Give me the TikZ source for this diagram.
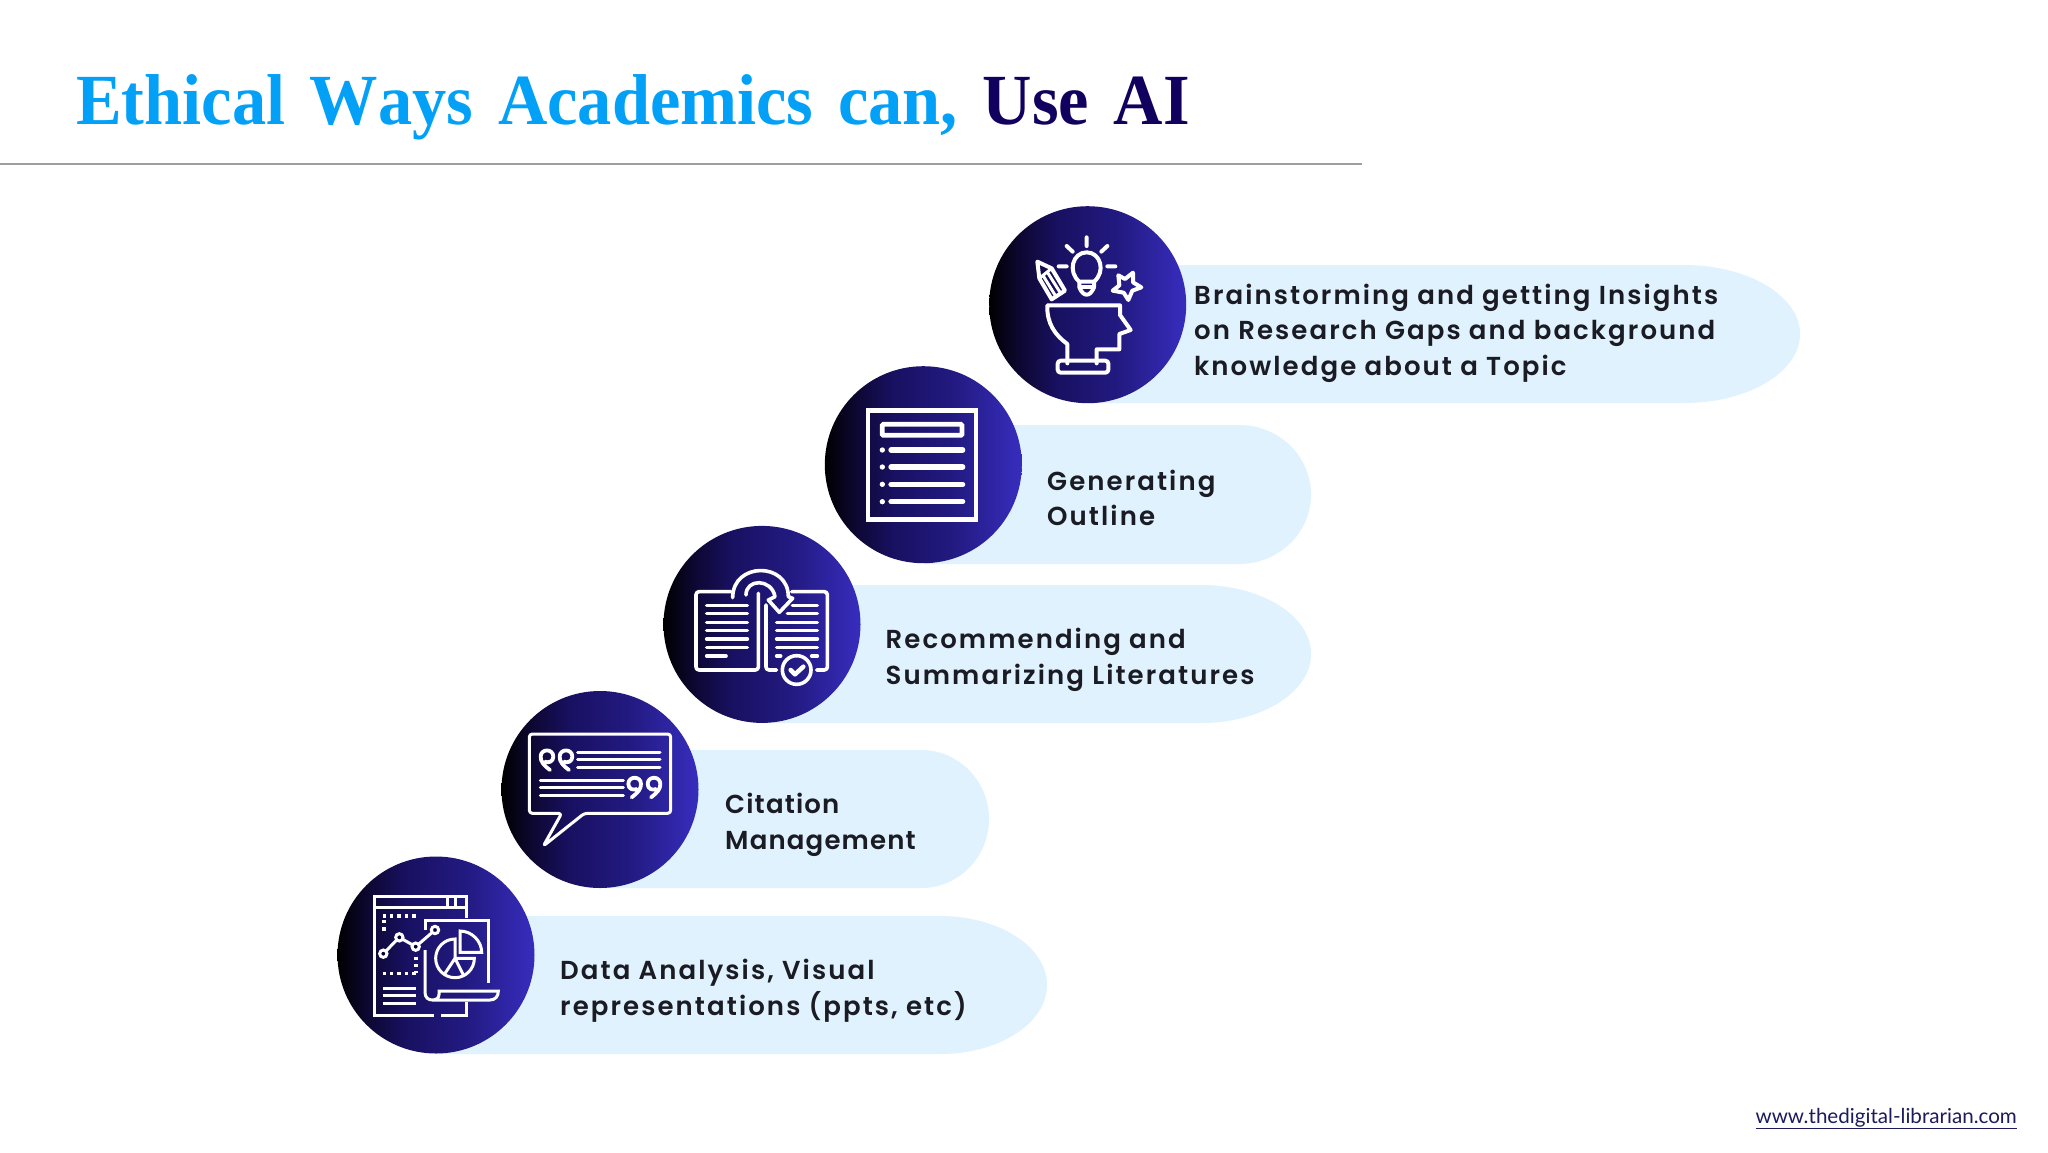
\documentclass[tikz,border=0pt]{standalone}
\usepackage{fontspec}
\setmainfont{Liberation Serif}
\newfontfamily\bodyfont[LetterSpace=8,UprightFont=* SemiBold]{Poppins}
\newfontfamily\bodytight[LetterSpace=4.5,UprightFont=* SemiBold]{Poppins}
\newfontfamily\titlefont[UprightFont=* Bold,FakeStretch=0.95,Kerning=Off,WordSpace=1.45]{Liberation Serif}
\newfontfamily\footfont{Lato}
\definecolor{titleblue}{HTML}{03A0F8}
\definecolor{titlenavy}{HTML}{12005E}
\definecolor{pillblue}{HTML}{DFF2FE}
\definecolor{inktext}{HTML}{1B1B24}
\definecolor{footnavy}{HTML}{1B1B5E}
\pgfdeclarehorizontalshading{iconshade}{100bp}{
  rgb(0bp)=(0,0,0);
  rgb(25bp)=(0,0,0);
  rgb(33bp)=(0.05,0.03,0.2);
  rgb(42bp)=(0.094,0.063,0.376);
  rgb(58bp)=(0.137,0.102,0.51);
  rgb(75bp)=(0.216,0.176,0.745);
  rgb(100bp)=(0.216,0.176,0.745)}
\tikzset{
  iconcircle/.style={circle,minimum size=197pt,inner sep=0pt,shading=iconshade},
  label text/.style={anchor=west,align=left,inner sep=0pt,text=inktext,font=\bodyfont\fontsize{26}{35.6}\selectfont},
  pill/.style={fill=pillblue},
  icon/.style={draw=white,line cap=round,line join=round},
  zoomed/.style={x=0.33333pt,y=-0.33333pt}
}
\newcommand{\pillshape}[5]{% x start, top, bottom, right, rx
  \fill[pill] (#1,#2) -- ({#4-#5},#2)
   .. controls ({#4-#5+0.5523*#5},#2) and (#4,{(#2+#3)/2-0.5523*(#3-#2)/2}) .. (#4,{(#2+#3)/2})
   .. controls (#4,{(#2+#3)/2+0.5523*(#3-#2)/2}) and ({#4-#5+0.5523*#5},#3) .. ({#4-#5},#3)
   -- (#1,#3) -- cycle;}
\newcommand{\quotemark}[3]{%
  \draw[icon,line width=3.8pt,shift={(#1,#2)},xscale=#3] (10,35) .. controls (-10,20) and (-18,10) .. (-18,-5)
    .. controls (-18,-30) and (20,-30) .. (20,-5) .. controls (20,10) and (5,15) .. (-5,10);}
\begin{document}
\begin{tikzpicture}[x=1pt,y=-1pt]
\useasboundingbox[fill=white] (0,0) rectangle (2048,1152);
% title
\node[anchor=base west,inner sep=0pt,font=\titlefont\fontsize{72}{72}\selectfont] (title) at (76,124)
  {\textcolor{titleblue}{Ethical Ways Academics can,} \textcolor{titlenavy}{Use AI}};
\coordinate (ruleL) at (0,164.2);
\coordinate (ruleR) at (1362,164.2);
\draw[line width=1.8pt,draw=black!38] (ruleL) -- (ruleR);
% pills
\pillshape{1088}{265}{403}{1800}{116}
\pillshape{924}{425}{564}{1311}{72}
\pillshape{762}{585}{723}{1311}{110}
\pillshape{600}{750}{888}{989}{68}
\pillshape{436}{916}{1054}{1047}{107}
% circles
\node[iconcircle] (c1) at (1087.7,304.7) {};
\node[iconcircle] (c2) at (923.3,464.7) {};
\node[iconcircle] (c3) at (762,624.4) {};
\node[iconcircle] (c4) at (600,789.5) {};
\node[iconcircle] (c5) at (436,955) {};
% texts
\node[label text] (t1) at (1194,333) {Brainstorming and getting Insights\\on Research Gaps and background\\knowledge about a Topic};
\node[label text] (t2) at (1047,498) {Generating\\Outline};
\node[label text] (t3) at (885.5,660) {Recommending and\\Summarizing Literatures};
\node[label text,font=\bodytight\fontsize{26}{35.6}\selectfont] (t4) at (725,825) {Citation\\Management};
\node[label text] (t5) at (560,991) {Data Analysis, Visual\\representations (ppts, etc)};
\node[anchor=base east,inner sep=0pt,text=footnavy,font=\footfont\fontsize{20.6}{24}\selectfont] (foot) at (2017,1123) {\underline{www.thedigital-librarian.com}};
% icon 1
\begin{scope}[shift={(980,200)},zoomed,icon,line width=4pt]
  \draw (262,490) -- (262,432) .. controls (225,405) and (200,370) .. (202,316) -- (420,316) -- (420,345) -- (452,390) -- (418,402) -- (418,448) -- (350,448) -- (350,490);
  \draw[rounded corners=3pt] (233,482) rectangle (385,518);
  \draw (298,245) .. controls (262,215) and (278,157) .. (320,157) .. controls (362,157) and (378,215) .. (342,245) -- (298,245);
  \draw (298,245) -- (298,262) .. controls (305,278) and (312,284) .. (320,284) .. controls (328,284) and (335,278) .. (342,262) -- (342,245);
  \draw (300,262) -- (340,262);
  \draw (320,112) -- (320,138) (260,138) -- (278,155) (382,138) -- (364,155) (236,199) -- (260,199) (382,199) -- (406,199);
  \draw (172,185) -- (215,205) -- (255,272) -- (215,298) -- (178,235) -- cycle;
  \draw[line width=3pt] (178,235) -- (215,205) (190,228) -- (228,290) (203,218) -- (242,280);
  \draw (459,218) -- (459,247) -- (484,262) -- (457,272) -- (445,300) -- (431,278) -- (398,272) -- (418,256) -- (415,226) -- (435,237) -- cycle;
\end{scope}
% icon 2
\begin{scope}[shift={(820,360)},zoomed,icon,line width=4.7pt]
  \draw[line cap=butt,line join=miter] (144,152) rectangle (468,478);
  \draw[rounded corners=1pt,line join=miter] (187,193) rectangle (426,226);
  \foreach \yy in {270,321,373,425} {
    \fill[white] (187,\yy) circle (8);
    \draw[line width=5.3pt] (213,\yy) -- (428,\yy);
  }
\end{scope}
% icon 3
\begin{scope}[shift={(660,525)},zoomed,icon,line width=3.6pt]
  \draw[rounded corners=3pt] (213,200) -- (108,200) -- (108,435) -- (295,435) -- (295,205);
  \draw[rounded corners=3pt] (395,200) -- (502,200) -- (502,435) -- (470,435);
  \draw[rounded corners=3pt] (318,240) -- (318,435) -- (350,435);
  \foreach \yy in {241,266,292,317,342,367} \draw (140,\yy) -- (262,\yy);
  \draw (140,393) -- (198,393);
  \foreach \yy in {292,317,342,367} \draw (350,\yy) -- (472,\yy);
  \draw (382,266) -- (472,266) (397,241) -- (472,241) (350,393) -- (362,393) (455,393) -- (472,393);
  \draw (218,218) .. controls (218,110) and (385,110) .. (385,215) -- (398,220) -- (358,262) -- (325,225) -- (345,215) .. controls (335,160) and (258,160) .. (258,210);
  \draw (410,435) circle (43);
  \draw[line width=4.5pt] (392,435) -- (405,448) -- (430,425);
\end{scope}
% icon 4
\begin{scope}[shift={(495,690)},zoomed,icon,line width=3pt]
  \draw[rounded corners=3pt] (103,132) -- (527,132) -- (527,370) -- (268,370) -- (145,468) -- (200,370) -- (103,370) -- cycle;
  \foreach \yy in {187,209,231} \draw (248,\yy) -- (495,\yy);
  \foreach \yy in {271,293,315} \draw (136,\yy) -- (385,\yy);
  \quotemark{155}{205}{1}
  \quotemark{212}{205}{1}
  \quotemark{420}{287}{-1}
  \quotemark{478}{287}{-1}
\end{scope}
% icon 5
\begin{scope}[shift={(335,855)},zoomed,icon,line width=3pt,line cap=butt,line join=miter]
  \draw (395,190) -- (395,125) -- (118,125) -- (118,480) -- (298,480);
  \draw (318,480) -- (395,480) -- (395,440);
  \draw (118,157) -- (395,157) (338,125) -- (338,157) (362,125) -- (362,157);
  \draw[line width=3.4pt,dash pattern=on 3.4pt off 4pt] (143,183) -- (245,183) (147,195) -- (147,238) (243,305) -- (243,355) (143,355) -- (245,355);
  \draw (143,400) -- (243,400) (143,422) -- (243,422) (143,444) -- (243,444);
  \draw (270,225) -- (270,195) -- (460,195) -- (460,383);
  \draw (270,285) -- (270,412) .. controls (270,428) and (280,435) .. (292,435) -- (465,435) .. controls (480,435) and (490,425) .. (490,408) -- (312,408) -- (312,418) .. controls (312,428) and (305,435) .. (292,435);
  \draw (145,296) -- (193,247) -- (242,275) -- (300,225);
  \foreach \px/\py in {145/296,193/247,242/275,300/225} \filldraw[fill=black!50!blue!50!black] (\px,\py) circle (11);
  \draw (418,310) arc[start angle=0,end angle=270,radius=58] -- (360,310) -- cycle;
  \draw (360,310) -- (328,358) (360,310) -- (385,360);
  \draw (375,292) -- (375,228) .. controls (410,228) and (440,258) .. (440,292) -- cycle;
\end{scope}
\end{tikzpicture}
\end{document}
